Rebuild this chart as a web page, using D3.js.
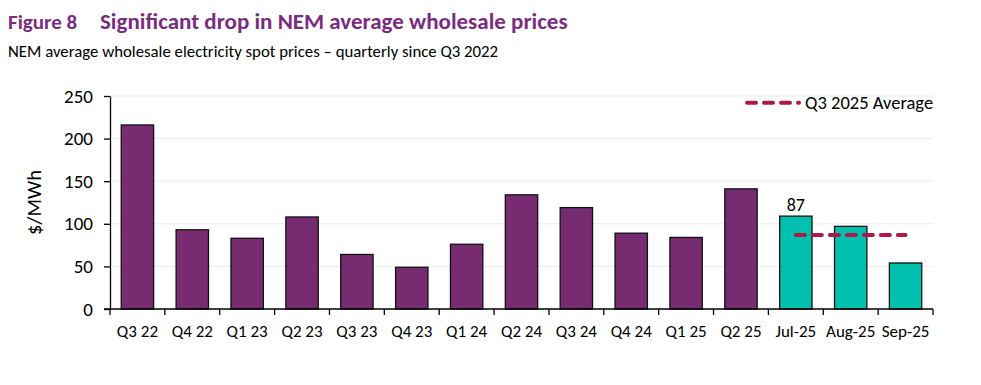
<!DOCTYPE html>
<html>
<head>
<meta charset="utf-8">
<script src="https://cdn.jsdelivr.net/npm/d3@7"></script>
<style>
  body { margin: 0; background: #fff; }
  svg text { font-family: Carlito, Calibri, Lato, sans-serif; fill: #000; }
</style>
</head>
<body>
<svg id="chart"></svg>
<script>
// categories and values
const periods = ['Q3 22', 'Q4 22', 'Q1 23', 'Q2 23', 'Q3 23', 'Q4 23', 'Q1 24', 'Q2 24',
  'Q3 24', 'Q4 24', 'Q1 25', 'Q2 25', 'Jul-25', 'Aug-25', 'Sep-25'];
const prices = [216, 93, 83, 108, 64, 49, 76, 134, 119, 89, 84, 141, 109, 97, 54];
const isMonthly = [false, false, false, false, false, false, false, false,
  false, false, false, false, true, true, true];
const q3Average = 87;
const averageFrom = 'Jul-25';
const averageTo = 'Sep-25';
const yTicks = [0, 50, 100, 150, 200, 250];

const WIDTH = 981;
const HEIGHT = 385;
const MARGINS = {left: 110, right: 48, top: 96, bottom: 76};
const FONT = 'Carlito, Calibri, Lato, sans-serif';

const svg = d3.select('#chart')
  .attr('width', WIDTH)
  .attr('height', HEIGHT);

const x = d3.scaleBand()
  .domain(periods)
  .range([MARGINS.left, WIDTH - MARGINS.right])
  .paddingInner(0.41)
  .paddingOuter(0.205);

const y = d3.scaleLinear()
  .domain([0, 250])
  .range([HEIGHT - MARGINS.bottom, MARGINS.top]);

// titles
svg.append('text')
  .attr('x', 8).attr('y', 29)
  .style('font-size', '21px').style('font-weight', 'bold').style('fill', '#7b2c7f')
  .text('Figure 8');
svg.append('text')
  .attr('x', 100).attr('y', 29)
  .style('font-size', '23px').style('font-weight', 'bold').style('fill', '#7b2c7f')
  .text('Significant drop in NEM average wholesale prices');
svg.append('text')
  .attr('x', 8).attr('y', 57)
  .style('font-size', '16.8px')
  .text('NEM average wholesale electricity spot prices \u2013 quarterly since Q3 2022');

// gridlines
svg.append('g')
  .selectAll('line')
  .data(yTicks.filter(t => t > 0))
  .join('line')
  .attr('x1', MARGINS.left).attr('x2', WIDTH - MARGINS.right)
  .attr('y1', d => y(d)).attr('y2', d => y(d))
  .attr('stroke', '#ececec').attr('stroke-width', 1);

// bars
svg.append('g')
  .selectAll('rect')
  .data(periods)
  .join('rect')
  .attr('x', (d) => x(d))
  .attr('y', (d, i) => y(prices[i]))
  .attr('width', x.bandwidth())
  .attr('height', (d, i) => y(0) - y(prices[i]))
  .attr('fill', (d, i) => isMonthly[i] ? '#00c1ad' : '#772c72')
  .attr('stroke', '#111').attr('stroke-width', 1.3);

// axes
const yAxis = svg.append('g')
  .attr('transform', `translate(${MARGINS.left},0)`)
  .call(d3.axisLeft(y).tickValues(yTicks).tickSize(6).tickSizeOuter(0).tickPadding(11));
yAxis.selectAll('text').style('font-size', '19px').style('font-family', FONT);

const xAxis = svg.append('g')
  .attr('transform', `translate(0,${y(0)})`)
  .call(d3.axisBottom(x).tickSize(0).tickPadding(16));
xAxis.select('.domain').remove();
xAxis.selectAll('text').style('font-size', '17px').style('font-family', FONT);

// x baseline and boundary ticks
const step = x.step();
const bounds = d3.range(periods.length + 1).map(i => MARGINS.left + i * step);
svg.append('line')
  .attr('x1', MARGINS.left - 6).attr('x2', WIDTH - MARGINS.right)
  .attr('y1', y(0)).attr('y2', y(0))
  .attr('stroke', '#000').attr('stroke-width', 1.3);
svg.append('g')
  .selectAll('line')
  .data(bounds)
  .join('line')
  .attr('x1', d => d).attr('x2', d => d)
  .attr('y1', y(0)).attr('y2', y(0) + 6)
  .attr('stroke', '#000').attr('stroke-width', 1.3);
yAxis.select('.domain').attr('stroke-width', 1.3);
yAxis.selectAll('.tick line').attr('stroke-width', 1.3);

// y-axis title
svg.append('text')
  .attr('transform', `translate(41,${y(125)}) rotate(-90)`)
  .attr('text-anchor', 'middle')
  .style('font-size', '20.5px')
  .text('$/MWh');

// Q3 2025 average line
svg.append('line')
  .attr('x1', x(averageFrom) + x.bandwidth() / 2)
  .attr('x2', x(averageTo) + x.bandwidth() / 2)
  .attr('y1', y(q3Average)).attr('y2', y(q3Average))
  .attr('stroke', '#b0174a').attr('stroke-width', 4)
  .attr('stroke-dasharray', '9,8').attr('stroke-linecap', 'round');

svg.append('text')
  .attr('x', x(averageFrom) + x.bandwidth() / 2)
  .attr('y', y(prices[periods.indexOf(averageFrom)]) - 5)
  .attr('text-anchor', 'middle')
  .style('font-size', '18px')
  .text(q3Average);

// legend
const legend = svg.append('g').attr('transform', `translate(747,${y(242)})`);
legend.append('line')
  .attr('x1', 0).attr('x2', 52).attr('y1', 0).attr('y2', 0)
  .attr('stroke', '#b0174a').attr('stroke-width', 4)
  .attr('stroke-dasharray', '9,8').attr('stroke-linecap', 'round');
legend.append('text')
  .attr('x', 58).attr('y', 6)
  .style('font-size', '18.5px')
  .text('Q3 2025 Average');
</script>
</body>
</html>
